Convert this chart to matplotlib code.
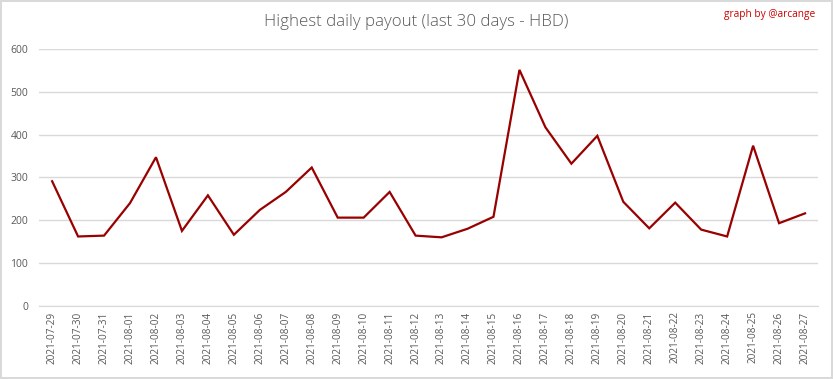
import matplotlib.pyplot as plt

# --- Data ---
dates = ["2021-07-29", "2021-07-30", "2021-07-31", "2021-08-01", "2021-08-02",
         "2021-08-03", "2021-08-04", "2021-08-05", "2021-08-06", "2021-08-07",
         "2021-08-08", "2021-08-09", "2021-08-10", "2021-08-11", "2021-08-12",
         "2021-08-13", "2021-08-14", "2021-08-15", "2021-08-16", "2021-08-17",
         "2021-08-18", "2021-08-19", "2021-08-20", "2021-08-21", "2021-08-22",
         "2021-08-23", "2021-08-24", "2021-08-25", "2021-08-26", "2021-08-27"]
payout = [291, 162, 164, 240, 347, 175, 258, 166, 224, 266,
          323, 206, 206, 266, 164, 160, 180, 208, 551, 417,
          332, 397, 243, 181, 241, 178, 162, 374, 193, 216]
yticks = [0, 100, 200, 300, 400, 500, 600]

plt.rcParams["font.family"] = ["Open Sans", "DejaVu Sans"]

fig = plt.figure(figsize=(8.33, 3.79), dpi=100)
fig.patch.set_facecolor("white")
fig.patch.set_edgecolor("#d9d9d9")
fig.patch.set_linewidth(1.5)

ax = fig.add_axes([0.047, 0.193, 0.935, 0.678])
x = list(range(len(dates)))
ax.plot(x, payout, color="#990000", linewidth=1.6, solid_joinstyle="miter")

ax.set_xlim(-0.5, len(dates) - 0.5)
ax.set_ylim(0, 600)
ax.set_yticks(yticks)
ax.set_xticks(x)
ax.set_xticklabels(dates, rotation=90, fontsize=7.2, color="#595959")
ax.tick_params(axis="y", labelsize=7.5, colors="#595959", length=0, pad=8)
ax.tick_params(axis="x", length=0, pad=4)
ax.grid(axis="y", color="#d9d9d9", linewidth=1)
ax.set_axisbelow(True)
for s in ["top", "right", "left"]:
    ax.spines[s].set_visible(False)
ax.spines["bottom"].set_color("#d9d9d9")

fig.text(0.5, 0.942, "Highest daily payout (last 30 days - HBD)", ha="center",
         va="center", fontsize=12.2, color="#595959", fontweight="light")
fig.text(0.979, 0.961, "graph by @arcange", ha="right", va="center",
         fontsize=7.3, color="#cc0000")

plt.savefig("out.png", dpi=100)
